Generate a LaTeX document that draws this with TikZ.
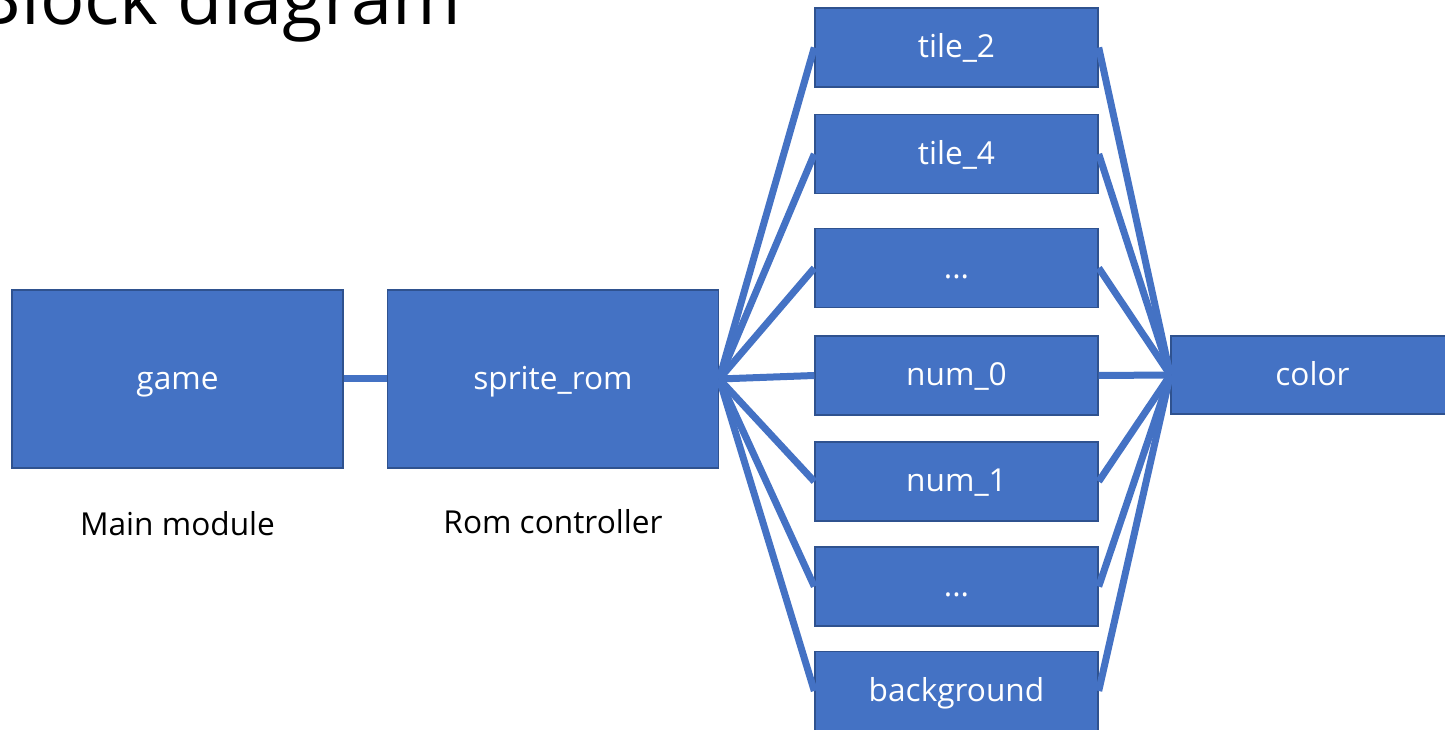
\documentclass[tikz,border=0pt]{standalone}
\usepackage{fontspec}
\setmainfont{Open Sans}
\usetikzlibrary{positioning}
\definecolor{blockblue}{HTML}{4472C4}
\definecolor{edgeblue}{HTML}{2F528F}
\newcommand{\moredots}{...}

\tikzset{
  block/.style={draw=edgeblue, line width=0.4pt, fill=blockblue, text=white,
    font=\fontsize{9}{11}\selectfont, text height=1.1ex, text depth=0pt,
    minimum width=2.83cm, minimum height=0.79cm, inner sep=0pt},
  bigblock/.style={block, minimum width=3.31cm, minimum height=1.78cm},
  wire/.style={blockblue, line width=0.7mm},
  caption/.style={font=\fontsize{9}{11}\selectfont, inner sep=0pt}
}

\begin{document}
\begin{tikzpicture}
        \useasboundingbox (0,0) rectangle (14.45,7.30);
        \clip (0,0) rectangle (14.45,7.30);
        % title, cut by the top edge
        \node[anchor=base west, font=\fontsize{21}{25}\selectfont, inner sep=0pt] (title) at (-0.27,7.05) {Block diagram};
        % main module and rom controller
        \node[bigblock] (game) at (1.775,3.51) {game};
        \node[bigblock] (rom) at (5.53,3.51) {sprite\_rom};
        \node[caption, below=0.42cm of game] (gamecap) {Main module};
        \node[caption, below=0.40cm of rom] (romcap) {Rom controller};
        \node[block, minimum height=0.78cm] (color) at (13.125,3.55) {color};
        \draw[wire] (game) -- (rom);
        % sprite roms
        \foreach \name/\txt/\y in {tile2/tile\_2/6.825, tile4/tile\_4/5.76, dotsA/\moredots/4.62, num0/num\_0/3.545,
            num1/num\_1/2.485, dotsB/\moredots/1.435, bg/background/0.39}{
            \node[block] (\name) at (9.565,\y) {\txt};
            \draw[wire] (rom.east) -- (\name.west);
            \draw[wire] (\name.east) -- (color.west);
        }
    \end{tikzpicture}
\end{document}
